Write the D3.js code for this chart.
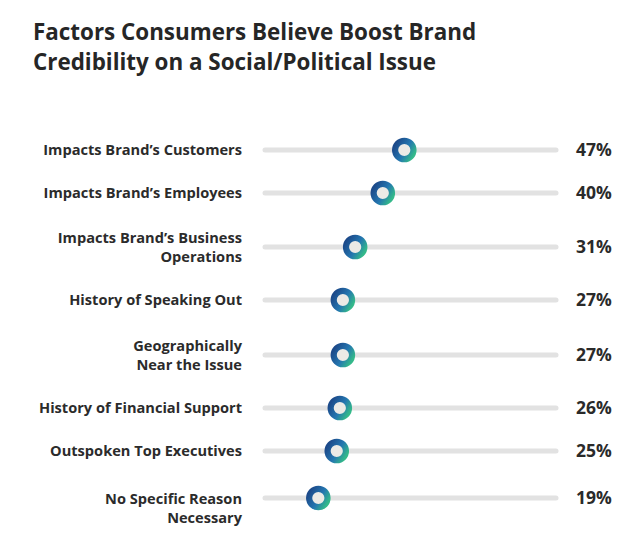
<!DOCTYPE html>
<html>
<head>
<meta charset="utf-8">
<script src="https://cdn.jsdelivr.net/npm/d3@7"></script>
<style>
  html, body { margin: 0; padding: 0; background: #ffffff; }
  svg { display: block; }
</style>
</head>
<body>
<svg id="chart" width="641" height="549"></svg>
<script>
const titleLines = ["Factors Consumers Believe Boost Brand", "Credibility on a Social/Political Issue"];
const categories = [
  ["Impacts Brand’s Customers"],
  ["Impacts Brand’s Employees"],
  ["Impacts Brand’s Business", "Operations"],
  ["History of Speaking Out"],
  ["Geographically", "Near the Issue"],
  ["History of Financial Support"],
  ["Outspoken Top Executives"],
  ["No Specific Reason", "Necessary"]
];
const values = [47, 40, 31, 27, 27, 26, 25, 19];
const rowCenters = [150, 193, 247, 300, 355, 408, 451, 498];
const labelCenters = [150, 193, 247, 300, 355, 408, 451, 508];

const svg = d3.select("#chart");
const font = "'Open Sans', sans-serif";

const defs = svg.append("defs");
const grad = defs.append("linearGradient").attr("id", "ringGrad")
  .attr("x1", "0%").attr("y1", "20%").attr("x2", "100%").attr("y2", "80%");
grad.append("stop").attr("offset", "0%").attr("stop-color", "#1c4a8a");
grad.append("stop").attr("offset", "55%").attr("stop-color", "#2476b0");
grad.append("stop").attr("offset", "100%").attr("stop-color", "#34b98a");

svg.append("g").selectAll("text").data(titleLines).join("text")
  .attr("x", 33).attr("y", (d, i) => 40 + i * 30)
  .attr("font-family", font).attr("font-weight", 700)
  .attr("font-size", 22.4).attr("fill", "#262626")
  .text(d => d);

const x = d3.scaleLinear().domain([0, 100]).range([260, 567]);
const y = d3.scaleOrdinal().domain(d3.range(values.length)).range(rowCenters);

const trackX0 = 265, trackX1 = 556;

const rows = svg.append("g").selectAll("g").data(values).join("g")
  .attr("transform", (d, i) => `translate(0,${y(i)})`);

rows.append("line")
  .attr("x1", trackX0).attr("x2", trackX1).attr("y1", 0).attr("y2", 0)
  .attr("stroke", "#e2e2e2").attr("stroke-width", 5).attr("stroke-linecap", "round");

rows.append("circle")
  .attr("cx", d => x(d)).attr("cy", 0).attr("r", 9.2)
  .attr("fill", "#eceae6")
  .attr("stroke", "url(#ringGrad)").attr("stroke-width", 6.2);

rows.append("text")
  .attr("x", 576).attr("y", 0).attr("dy", "0.36em")
  .attr("font-family", font).attr("font-weight", 700)
  .attr("font-size", 17.5).attr("fill", "#2a2a2a")
  .text(d => d + "%");

const labels = svg.append("g").selectAll("g").data(categories).join("g")
  .attr("transform", (d, i) => `translate(0,${labelCenters[i]})`);
labels.each(function(lines) {
  const lh = 19;
  d3.select(this).selectAll("text").data(lines).join("text")
    .attr("x", 242)
    .attr("y", (t, j) => (j - (lines.length - 1) / 2) * lh)
    .attr("dy", "0.36em")
    .attr("text-anchor", "end")
    .attr("font-family", font).attr("font-weight", 700)
    .attr("font-size", 14.6).attr("fill", "#2b2b2b")
    .text(t => t);
});
</script>
</body>
</html>
